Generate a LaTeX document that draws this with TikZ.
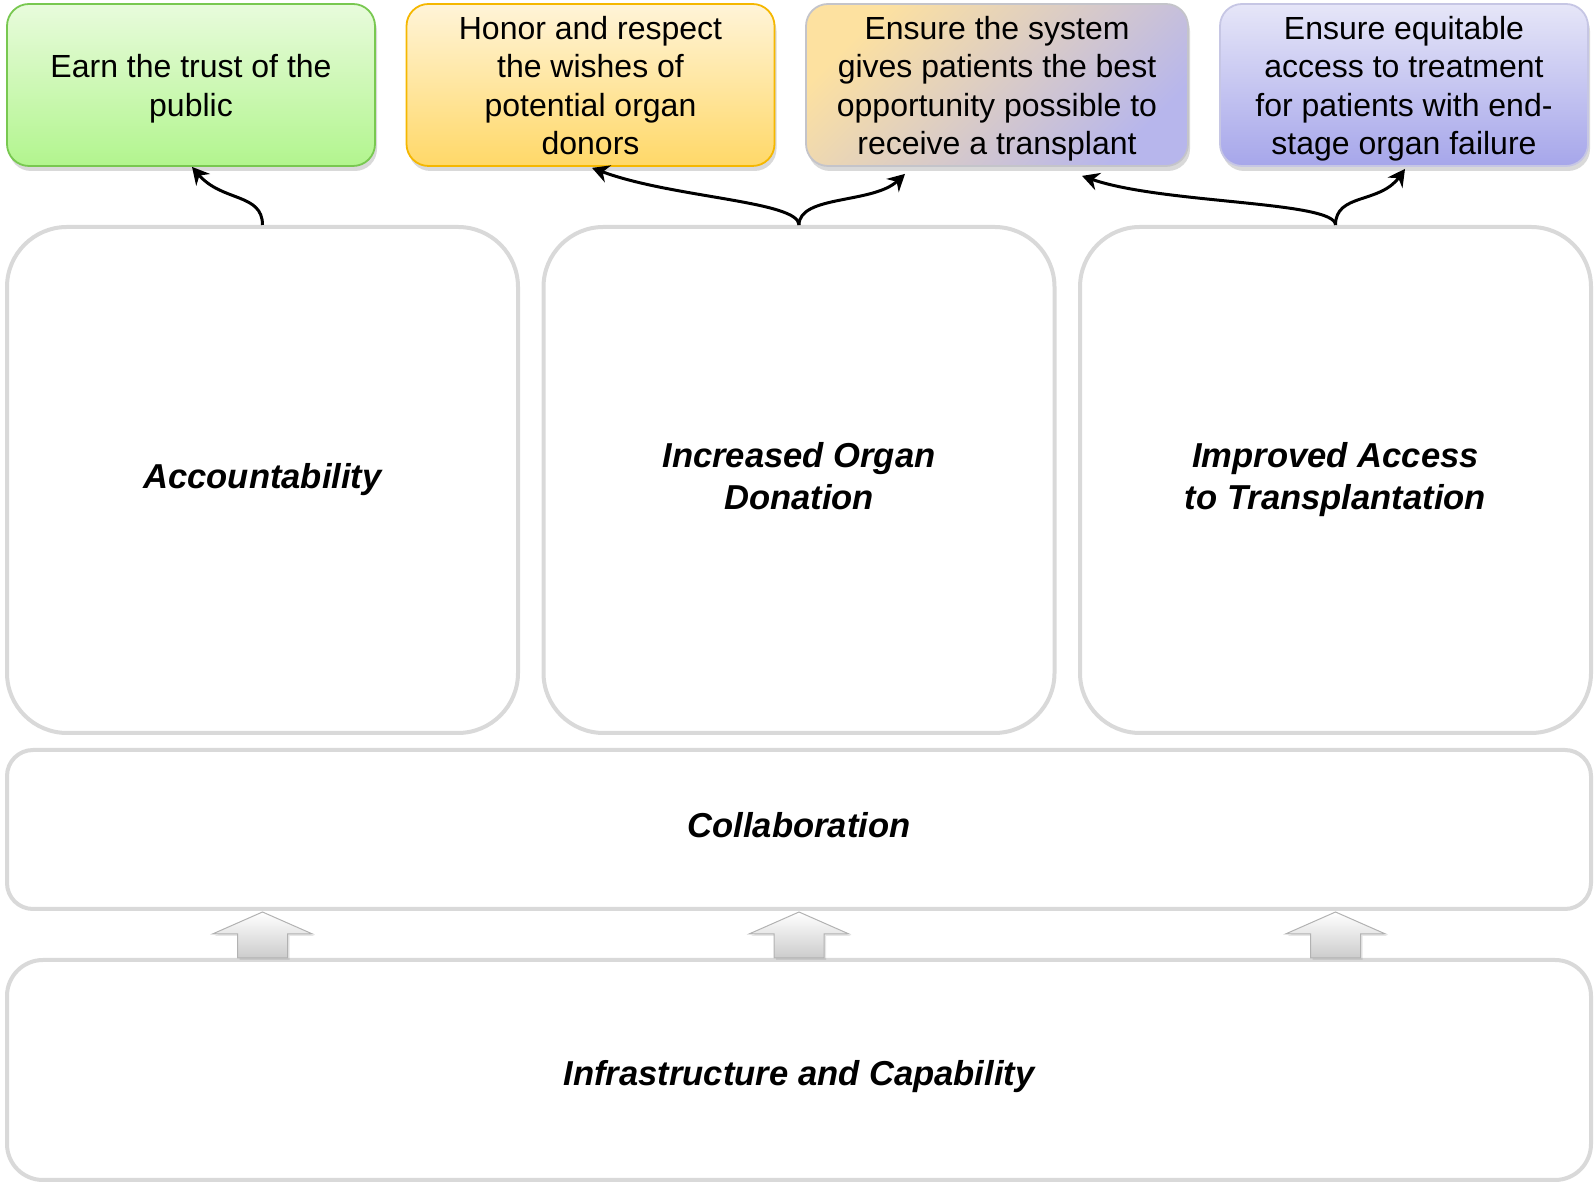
\documentclass[tikz,border=0pt]{standalone}
\usepackage{fontspec}
\setmainfont{Liberation Sans}
\usepackage{xcolor}
\usepackage{tikz}
\usetikzlibrary{shadows, arrows.meta}
\definecolor{trustgreen}{RGB}{120, 200, 80}
\definecolor{trusttop}{RGB}{232, 251, 220}
\definecolor{trustbot}{RGB}{178, 245, 142}
\definecolor{honorgold}{RGB}{245, 183, 0}
\definecolor{honortop}{RGB}{255, 244, 216}
\definecolor{honorbot}{RGB}{255, 216, 104}
\definecolor{systemedge}{RGB}{196, 196, 202}
\definecolor{systemleft}{RGB}{253, 225, 160}
\definecolor{systemright}{RGB}{183, 182, 236}
\definecolor{accessedge}{RGB}{198, 198, 228}
\definecolor{accesstop}{RGB}{230, 230, 248}
\definecolor{accessbot}{RGB}{166, 166, 234}
\definecolor{pillargray}{RGB}{217, 217, 217}
\newcommand{\goalstrut}{\rule{0pt}{15.4pt}}

\begin{document}
\begin{tikzpicture}[x=0.5pt, y=0.5pt,
  goal/.style={rounded corners=11pt, line width=0.9pt, minimum width=184pt, minimum height=81pt,
    inner ysep=0pt, align=center, font=\fontsize{16}{19.3}\selectfont,
    drop shadow={shadow xshift=1pt, shadow yshift=-2.5pt, opacity=0.3}},
  pillar/.style={draw=pillargray, line width=2pt, fill=white, rounded corners=30pt,
    minimum width=255.5pt, minimum height=253pt, align=center,
    font=\fontsize{17.3}{21}\selectfont\bfseries\itshape},
  base/.style={pillar, rounded corners=13pt, minimum width=792pt},
  link/.style={-{Stealth[length=8.5pt, width=9pt, inset=2.8pt]}, line width=1.5pt},
  blockarrow/.style={draw=black!30, line width=0.5pt, top color=white, bottom color=black!20,
    drop shadow={shadow xshift=1pt, shadow yshift=-1pt, opacity=0.2}}]
\useasboundingbox (0,0) rectangle (1595,1182);

% Goals along the top
\node[goal, draw=trustgreen, top color=trusttop, bottom color=trustbot] (g1) at (191,1097)
  {\goalstrut Earn the trust of the\\public};
\node[goal, draw=honorgold, top color=honortop, bottom color=honorbot] (g2) at (590.5,1097)
  {\goalstrut Honor and respect\\the wishes of\\potential organ\\donors\vphantom{p}};
\node[goal, minimum width=191pt, draw=systemedge, left color=systemleft, right color=systemright,
  shading angle=45] (g3) at (997,1097)
  {\goalstrut Ensure the system\\gives patients the best\\opportunity possible to\\receive a transplant};
\node[goal, draw=accessedge, top color=accesstop, bottom color=accessbot] (g4) at (1404,1097)
  {\goalstrut Ensure equitable\\access to treatment\\for patients with end-\\stage organ failure};

% Three pillars
\node[pillar] (p1) at (262.5,702) {Accountability};
\node[pillar] (p2) at (799,702) {Increased Organ\\Donation\vphantom{p}};
\node[pillar] (p3) at (1335.5,702) {Improved Access\\to Transplantation};

% Foundation
\node[base, minimum height=79.5pt] (collab) at (799,352.5)
  {\raisebox{2pt}[\height][\depth]{Collaboration}};
\node[base, rounded corners=18pt, minimum height=110pt] (infra) at (799,112)
  {\raisebox{-3.5pt}[\height][\depth]{Infrastructure and Capability}};

% Block arrows from infrastructure up to collaboration
\foreach \p in {p1,p2,p3}
  \draw[blockarrow] (\p.south |- infra.north) ++(-25,0) -- ++(0,24) -- ++(-25,0) -- ++(50,22)
    -- ++(50,-22) -- ++(-25,0) -- ++(0,-24) -- cycle;

% Pillars to goals
\draw[link] (p1.north) .. controls +(0,32) and +(30,-35) .. ([xshift=0.5pt]g1.south);
\draw[link] (p2.north) .. controls +(0,24) and +(80,-30) .. ([xshift=0.75pt,yshift=-0.5pt]g2.south);
\draw[link] (p2.north) .. controls +(0,30) and +(-32,-30) .. ([xshift=-46pt,yshift=-3.5pt]g3.south);
\draw[link] (p3.north) .. controls +(0,24) and +(80,-28) .. ([xshift=42.5pt,yshift=-4.5pt]g3.south);
\draw[link] (p3.north) .. controls +(0,32) and +(-25,-35) .. ([xshift=0.5pt,yshift=-1pt]g4.south);
\end{tikzpicture}
\end{document}
